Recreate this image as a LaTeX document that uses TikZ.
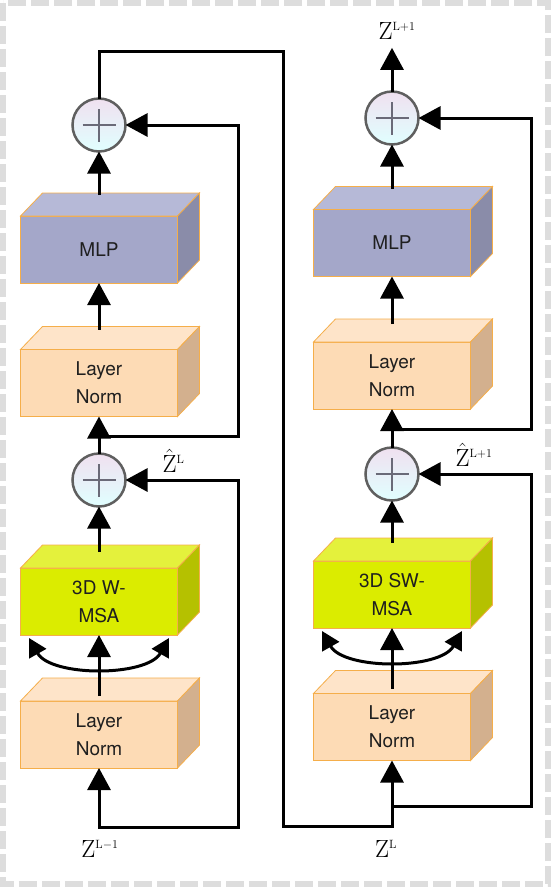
\documentclass[tikz,border=0pt]{standalone}
\usepackage[no-math]{fontspec}
\newfontfamily\heros{TeX Gyre Heros}
\usetikzlibrary{arrows.meta,calc}
\definecolor{mlpF}{HTML}{A4A7C9}
\definecolor{mlpT}{HTML}{B6B9D7}
\definecolor{mlpS}{HTML}{8A8CA9}
\definecolor{lnF}{HTML}{FDDBB5}
\definecolor{lnT}{HTML}{FEE4C9}
\definecolor{lnS}{HTML}{D3B08E}
\definecolor{msaF}{HTML}{DBEC00}
\definecolor{msaT}{HTML}{E4F13C}
\definecolor{msaS}{HTML}{B5C100}
\definecolor{edge}{HTML}{F5AE4A}
\definecolor{ring}{HTML}{5F5F5F}
\definecolor{cross}{HTML}{6A6A78}
\definecolor{frame}{HTML}{DDDDDD}
\tikzset{
  blk/.style={draw=edge, line width=.8pt, minimum width=157pt, minimum height=67pt,
    inner sep=0pt, outer sep=0pt, align=center, text=black!88,
    font={\heros\fontsize{19}{28}\selectfont}},
  plus/.style={circle, minimum size=53pt, inner sep=0pt, outer sep=0pt, draw=ring,
    line width=2.5pt, top color=violet!12, bottom color=cyan!12,
    path picture={\draw[line width=2pt, cross]
      ([xshift=-16.5pt]path picture bounding box.center) -- ([xshift=16.5pt]path picture bounding box.center)
      ([yshift=-16.5pt]path picture bounding box.center) -- ([yshift=16.5pt]path picture bounding box.center);}},
  conn/.style={line width=3pt},
  swing/.style={line width=3pt, {Triangle[length=18pt,width=19pt]}-{Triangle[length=18pt,width=19pt]}},
  lab/.style={inner sep=0pt, font={\fontsize{25}{30}\selectfont}}
}
% top and side faces of a block node
\newcommand\cubefaces[3]{%
  \filldraw[fill=#2, draw=edge, line width=.8pt] (#1.north west) -- ++(22,-23)
    -- ($(#1.north east)+(22,-23)$) -- (#1.north east) -- cycle;
  \filldraw[fill=#3, draw=edge, line width=.8pt] (#1.north east) -- ++(22,-23)
    -- ($(#1.south east)+(22,-23)$) -- (#1.south east) -- cycle;}
\begin{document}
\begin{tikzpicture}[x=1pt, y=-1pt, >={Triangle[length=22pt,width=23pt]}]
\useasboundingbox (0,0) rectangle (551,887);
\fill[white] (0,0) rectangle (551,887);
\draw[line width=6pt, frame, dash pattern=on 18pt off 5pt] (3,3) rectangle (548,884);
% left block
\node[blk, fill=lnF] (lnA1) at (99,734.5) {Layer\\Norm};
\cubefaces{lnA1}{lnT}{lnS}
\node[blk, fill=msaF] (msaA) at (99,601.5) {3D W-\\MSA};
\cubefaces{msaA}{msaT}{msaS}
\node[plus] (pA1) at (99,480) {};
\node[blk, fill=lnF] (lnA2) at (99,383) {Layer\\Norm};
\cubefaces{lnA2}{lnT}{lnS}
\node[blk, fill=mlpF] (mlpA) at (99,249.5) {MLP};
\cubefaces{mlpA}{mlpT}{mlpS}
\node[plus] (pA2) at (99,125) {};
\node[lab] (zA) at (100,849) {$\mathrm{Z}^{\scriptscriptstyle\mathrm{L}-1}$};
\node[lab] (hA) at (173.5,460.5) {$\hat{\mathrm{Z}}^{\scriptscriptstyle\mathrm{L}}$};
\coordinate (inA) at (99,827);
% right block
\node[blk, fill=lnF] (lnB1) at (392,727) {Layer\\Norm};
\cubefaces{lnB1}{lnT}{lnS}
\node[blk, fill=msaF] (msaB) at (392,594.5) {3D SW-\\MSA};
\cubefaces{msaB}{msaT}{msaS}
\node[plus] (pB1) at (392,474) {};
\node[blk, fill=lnF] (lnB2) at (392,375.5) {Layer\\Norm};
\cubefaces{lnB2}{lnT}{lnS}
\node[blk, fill=mlpF] (mlpB) at (392,243) {MLP};
\cubefaces{mlpB}{mlpT}{mlpS}
\node[plus] (pB2) at (392,118) {};
\node[lab] (zOut) at (397,31) {$\mathrm{Z}^{\scriptscriptstyle\mathrm{L+1}}$};
\node[lab] (zB) at (386,849) {$\mathrm{Z}^{\scriptscriptstyle\mathrm{L}}$};
\node[lab] (hB) at (474,454.5) {$\hat{\mathrm{Z}}^{\scriptscriptstyle\mathrm{L+1}}$};
\coordinate (jB) at (392,806);
\coordinate (turnT) at (283,51);
% left arrows
\draw[conn,<->] (lnA1.south) -- (inA) -- ++(139,0) |- (pA1.east);
\draw[conn,->] ($(lnA1.north)+(0,-5)$) -- (msaA.south);
\draw[swing] ($(msaA.south)+(-70,3)$) .. controls ($(msaA.south)+(-48,42)$) and ($(msaA.south)+(48,42)$) .. ($(msaA.south)+(70,3)$);
\draw[conn,->] ($(msaA.north)+(0,-16)$) -- (pA1.south);
\draw[conn,->] (pA1.north) -- (lnA2.south);
\draw[conn,->] ($(lnA2.south)+(0,20)$) -- ++(139,0) |- (pA2.east);
\draw[conn,->] ($(lnA2.north)+(0,-20)$) -- (mlpA.south);
\draw[conn,->] ($(mlpA.north)+(0,-21)$) -- (pA2.south);
% across to the right block
\draw[conn,->] (pA2.north) |- (turnT) |- (392,826) -- (lnB1.south);
\draw[conn,->] (jB) -- ++(139,0) |- (pB1.east);
% right arrows
\draw[conn,->] ($(lnB1.north)+(0,-5)$) -- (msaB.south);
\draw[swing] ($(msaB.south)+(-70,3)$) .. controls ($(msaB.south)+(-48,42)$) and ($(msaB.south)+(48,42)$) .. ($(msaB.south)+(70,3)$);
\draw[conn,->] ($(msaB.north)+(0,-18)$) -- (pB1.south);
\draw[conn,->] (pB1.north) -- (lnB2.south);
\draw[conn,->] ($(lnB2.south)+(0,20)$) -- ++(139,0) |- (pB2.east);
\draw[conn,->] ($(lnB2.north)+(0,-18)$) -- (mlpB.south);
\draw[conn,->] ($(mlpB.north)+(0,-21)$) -- (pB2.south);
\draw[conn,->] (pB2.north) -- ($(pB2.north |- zOut.south)+(0,8)$);
\end{tikzpicture}
\end{document}
